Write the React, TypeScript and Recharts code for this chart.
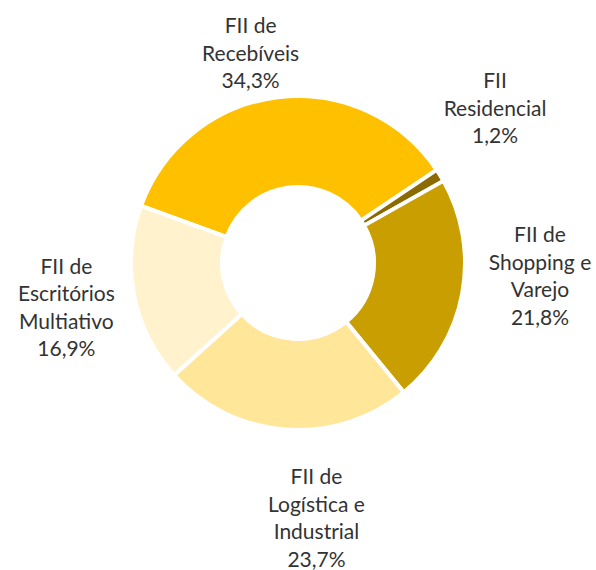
import React from "react";
import { PieChart, Pie, Cell } from "recharts";

const CATEGORIES = [
  "FII de Recebíveis",
  "FII Residencial",
  "FII de Shopping e Varejo",
  "FII de Logística e Industrial",
  "FII de Escritórios Multiativo",
];
const LABEL_LINES = [
  ["FII de", "Recebíveis"],
  ["FII", "Residencial"],
  ["FII de", "Shopping e", "Varejo"],
  ["FII de", "Logística e", "Industrial"],
  ["FII de", "Escritórios", "Multiativo"],
];
const VALUES = [34.3, 1.2, 21.8, 23.7, 16.9];
const COLORS = ["#FFC000", "#8B6A00", "#C89E00", "#FFE699", "#FFF2CC"];
const LABEL_NUDGE = [
  [-19, 24],
  [-3, -31],
  [11, -30],
  [36, 21],
  [-1, 0],
];

const data = CATEGORIES.map((name, i) => ({ name, value: VALUES[i] }));

const RAD = Math.PI / 180;
const LINE_H = 27.5;

const renderLabel = (props: any) => {
  const { cx, cy, midAngle, outerRadius, index } = props;
  const r = outerRadius + 68;
  const x = cx + r * Math.cos(-midAngle * RAD) + LABEL_NUDGE[index][0];
  const y = cy + r * Math.sin(-midAngle * RAD) + LABEL_NUDGE[index][1];
  const lines = [...LABEL_LINES[index], VALUES[index].toFixed(1).replace(".", ",") + "%"];
  const y0 = y - ((lines.length - 1) * LINE_H) / 2 + 7;
  return (
    <text
      key={`lbl-${index}`}
      x={x}
      y={y0}
      textAnchor="middle"
      fill="#333333"
      fontSize={21}
      fontFamily="Lato, 'Open Sans', sans-serif"
    >
      {lines.map((l, i) => (
        <tspan key={i} x={x} y={y0 + i * LINE_H}>
          {l}
        </tspan>
      ))}
    </text>
  );
};

export default function App() {
  return (
    <div style={{ position: "absolute", left: 0, top: 0, width: 596, height: 570, background: "#fff" }}>
      <PieChart width={596} height={570} margin={{ top: 0, right: 0, bottom: 0, left: 0 }}>
        <Pie
          data={data}
          dataKey="value"
          nameKey="name"
          cx={298}
          cy={263}
          innerRadius={76}
          outerRadius={167}
          startAngle={160}
          endAngle={-200}
          stroke="#ffffff"
          strokeWidth={4}
          label={renderLabel}
          labelLine={false}
          isAnimationActive={false}
        >
          {data.map((d, i) => (
            <Cell key={d.name} fill={COLORS[i]} />
          ))}
        </Pie>
      </PieChart>
    </div>
  );
}
